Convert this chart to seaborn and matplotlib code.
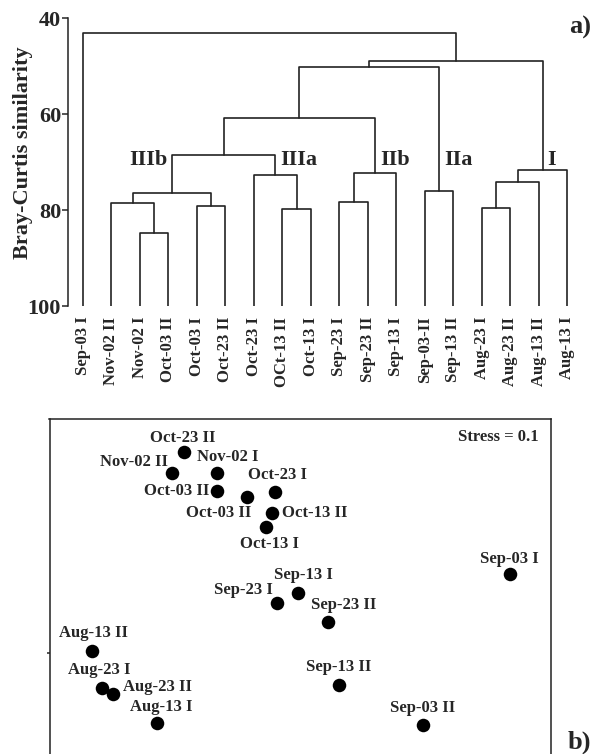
import numpy as np
import pandas as pd
import seaborn as sns
import matplotlib.pyplot as plt

# --- data: dendrogram (Bray-Curtis similarity) ---
leaves = ['Sep-03 I', 'Nov-02 II', 'Nov-02 I', 'Oct-03 II', 'Oct-03 I', 'Oct-23 II',
          'Oct-23 I', 'OCt-13 II', 'Oct-13 I', 'Sep-23 I', 'Sep-23 II', 'Sep-13 I',
          'Sep-03-II', 'Sep-13 II', 'Aug-23 I', 'Aug-23 II', 'Aug-13 II', 'Aug-13 I']
# merges: (child a, child b, similarity); ids >= 18 are earlier merges
merge_a = [2, 1, 4, 19, 7, 6, 21, 9, 25, 24, 12, 27, 14, 30, 31, 29, 0]
merge_b = [3, 18, 5, 20, 8, 22, 23, 10, 11, 26, 13, 28, 15, 16, 17, 32, 33]
merge_h = [84.8, 78.4, 79.2, 76.3, 79.8, 72.6, 68.5, 78.2, 72.3, 60.7, 76.0, 50.1,
           79.6, 74.2, 71.6, 48.8, 43.0]
cluster_names = ['IIIb', 'IIIa', 'IIb', 'IIa', 'I']
cluster_nodes = [21, 23, 26, 28, 32]

# --- data: NMDS ordination ---
samples = ['Oct-23 II', 'Nov-02 II', 'Nov-02 I', 'Oct-03 II', 'Oct-03 II', 'Oct-23 I',
           'Oct-13 II', 'Oct-13 I', 'Sep-03 I', 'Sep-13 I', 'Sep-23 I', 'Sep-23 II',
           'Sep-13 II', 'Sep-03 II', 'Aug-13 II', 'Aug-23 I', 'Aug-23 II', 'Aug-13 I']
nmds1 = [-1.16, -1.28, -0.83, -0.83, -0.53, -0.25, -0.28, -0.34, 2.10, -0.02, -0.23,
         0.28, 0.39, 1.23, -2.08, -1.98, -1.87, -1.43]
nmds2 = [1.48, 1.27, 1.27, 1.09, 1.03, 1.08, 0.87, 0.73, 0.26, 0.07, -0.03, -0.22,
         -0.85, -1.25, -0.51, -0.88, -0.94, -1.23]
stress = 0.1

sns.set_style('white')
plt.rcParams['font.family'] = ['Liberation Serif', 'DejaVu Serif']
plt.rcParams['font.weight'] = 'bold'

fig = plt.figure(figsize=(6.01, 7.54), dpi=100)
W, H = 601, 754

# ---------- panel a ----------
ax1 = fig.add_axes([68 / W, 1 - 306.3 / H, (581.75 - 68) / W, 288 / H])

# build U-shaped segments
n = len(leaves)
xpos = {i: float(i) for i in range(n)}
hpos = {i: 100.0 for i in range(n)}
rows = []
for k, (a, b, h) in enumerate(zip(merge_a, merge_b, merge_h)):
    node = n + k
    for px, py in [(xpos[a], hpos[a]), (xpos[a], h), (xpos[b], h), (xpos[b], hpos[b])]:
        rows.append({'node': node, 'x': px, 'y': py})
    xpos[node] = (xpos[a] + xpos[b]) / 2
    hpos[node] = h
seg = pd.DataFrame(rows)
sns.lineplot(data=seg, x='x', y='y', units='node', estimator=None, sort=False,
             color='#222222', lw=1.2, ax=ax1)

ax1.set_xlim(-0.526, 17.5)
ax1.set_ylim(100, 40)
ax1.set_xticks(range(n))
ax1.set_xticklabels(leaves, rotation=90, fontsize=12, fontweight='bold')
ax1.tick_params(axis='x', length=0, pad=7.5)
ax1.set_yticks([40, 60, 80, 100])
ax1.tick_params(axis='y', length=4, width=1.1, direction='out', pad=1,
                labelsize=16, left=True)
for t in ax1.get_yticklabels():
    t.set_fontweight('bold')
ax1.set_xlabel('')
ax1.set_ylabel('Bray-Curtis similarity', fontsize=16, fontweight='bold')
ax1.yaxis.set_label_coords(-0.068, 0.535)
sns.despine(ax=ax1, top=True, right=True, bottom=True)
ax1.spines['left'].set_linewidth(1.1)
ax1.spines['left'].set_color('#222222')

for name, node in zip(cluster_names, cluster_nodes):
    if name == 'IIIb':
        ax1.annotate(name, (xpos[node], 69.6), xytext=(-5, 0), textcoords='offset pixels',
                     ha='right', va='center', fontsize=16, fontweight='bold')
    else:
        ax1.annotate(name, (xpos[node], 69.6), xytext=(5, 0), textcoords='offset pixels',
                     ha='left', va='center', fontsize=16, fontweight='bold')

fig.text(580 / W, 1 - 27 / H, 'a)', ha='center', va='center', fontsize=19, fontweight='bold')

# ---------- panel b ----------
ax2 = fig.add_axes([49.5 / W, (H - 770) / H, (551 - 49.5) / W, (770 - 419) / H])
nm = pd.DataFrame({'sample': samples, 'NMDS1': nmds1, 'NMDS2': nmds2})
sns.scatterplot(data=nm, x='NMDS1', y='NMDS2', s=95, color='black', edgecolor='black',
                linewidth=0, ax=ax2, legend=False)

# label offsets in pixels (layout only)
offsets = [(-1, 14), (-38, 11), (11, 16), (-40, 0), (-28, -16), (2, 17),
           (43, 0), (3, -17), (-1, 15), (5, 18), (-34, 13), (16, 17),
           (0, 18), (0, 17), (2, 18), (-3, 18), (45, 7), (4, 16)]
for s, x, y, off in zip(samples, nmds1, nmds2, offsets):
    ax2.annotate(s, (x, y), xytext=off, textcoords='offset pixels', ha='center',
                 va='center', fontsize=12, fontweight='bold')

ax2.set_xlim(-2.505, 2.51)
ax2.set_ylim(-1.70, 1.81)
ax2.set_xticks([])
ax2.set_yticks([-0.53])
ax2.set_yticklabels([])
ax2.tick_params(axis='y', left=True, length=2, width=1.1, direction='out')
ax2.set_xlabel('')
ax2.set_ylabel('')
for sp in ax2.spines.values():
    sp.set_linewidth(1.1)
    sp.set_color('#222222')

ax2.text(0.976, 0.95, 'Stress = %.1f' % stress, transform=ax2.transAxes, ha='right',
         va='center', fontsize=12, fontweight='bold')
fig.text(579 / W, (H - 749) / H, 'b)', ha='center', va='baseline', fontsize=19,
         fontweight='bold')

fig.savefig('out.png', dpi=100)
